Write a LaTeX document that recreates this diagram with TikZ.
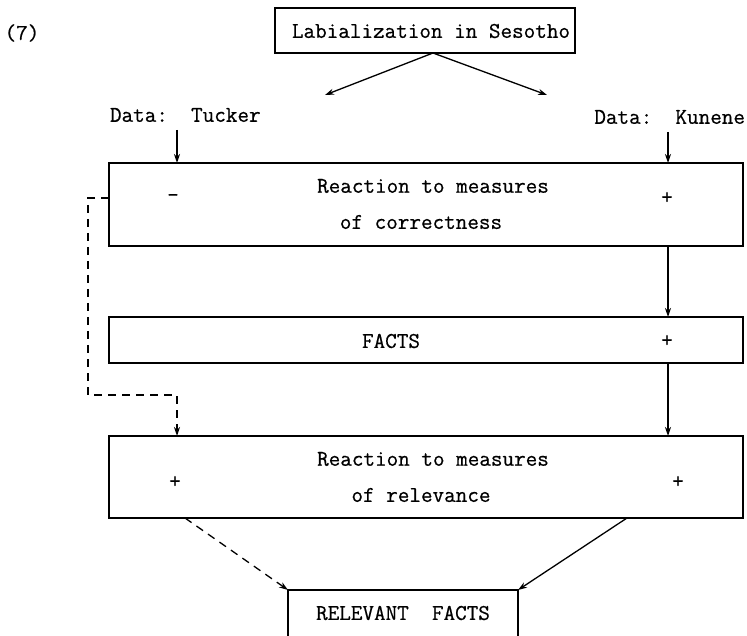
\documentclass[tikz,border=0pt]{standalone}
\usepackage{fontspec}
\newfontfamily\twfont[FakeBold=0.6]{Latin Modern Mono}
\usetikzlibrary{arrows.meta}
\tikzset{
  box/.style={draw, line width=1.5pt, inner sep=0pt, outer sep=0pt},
  txt/.style={inner sep=0pt, outer sep=0pt, font=\twfont\fontsize{22.5}{26}\selectfont},
  arr/.style={line width=1.3pt, -{Stealth[length=9pt,width=6pt]}},
  dasharr/.style={arr, dash pattern=on 8pt off 6pt}
}
\begin{document}
\begin{tikzpicture}[x=1pt,y=-1pt]
\useasboundingbox (0,0) rectangle (747,636);
% label
\node[txt] (num) at (22,33) {(7)};
% top box
\node[box, minimum width=300pt, minimum height=45pt] (topbox) at (425,30.5) {};
\node[txt] (toptxt) at (431,31) {Labialization in Sesotho};
\coordinate (tl) at (325,95);
\coordinate (tr) at (547,95);
\draw[arr] ([xshift=8pt]topbox.south) -- (tl);
\draw[arr] ([xshift=8pt]topbox.south) -- (tr);
% data labels
\node[txt, anchor=west] (tuck) at (110,115) {Data:\ \ Tucker};
\node[txt, anchor=east] (kun) at (745,117) {Data:\ \ Kunene};
\coordinate (tA) at (177,130);
\coordinate (kA) at (668,132);
% boxes
\node[box, minimum width=634pt, minimum height=83pt] (b1) at (426,204.5) {};
\node[box, minimum width=634pt, minimum height=46pt] (b2) at (426,340) {};
\node[box, minimum width=634pt, minimum height=82pt] (b3) at (426,477) {};
% box 1 texts
\node[txt] (b1a) at (433,186) {Reaction to measures};
\node[txt] (b1b) at (421,222) {of correctness};
\node[txt] (b1m) at (173,198) {-};
\node[txt] (b1p) at (667,198) {+};
% box 2 texts
\node[txt] (b2a) at (391,341) {FACTS};
\node[txt] (b2p) at (667,341) {+};
% box 3 texts
\node[txt] (b3a) at (433,459) {Reaction to measures};
\node[txt] (b3b) at (421,495) {of relevance};
\node[txt] (b3l) at (175,482) {+};
\node[txt] (b3r) at (678,482) {+};
% bottom box (open at the bottom)
\node[minimum width=230pt, minimum height=50pt, inner sep=0pt, outer sep=0pt] (rf) at (403,615) {};
\draw[line width=1.5pt] (rf.south west) -- (rf.north west) -- (rf.north east) -- (rf.south east);
\node[txt] (rftxt) at (403,613) {RELEVANT\ \ FACTS};
% vertical arrows
\draw[arr] (tA) -- (tA |- b1.north);
\draw[arr] (kA) -- (kA |- b1.north);
\draw[arr] (b1.south -| kA) -- (b2.north -| kA);
\draw[arr] (b2.south -| kA) -- (b3.north -| kA);
% dashed feedback
\coordinate (d1) at (88,395);
\draw[dasharr] (b1.west |- b1m) -- (d1 |- b1m) -- (d1) -| (b3.north -| tA);
% to relevant facts
\coordinate (s1) at (185,518);
\coordinate (s2) at (627,518);
\draw[dasharr] (b3.south -| s1) -- (rf.north west);
\draw[arr] (b3.south -| s2) -- (rf.north east);
\end{tikzpicture}
\end{document}
